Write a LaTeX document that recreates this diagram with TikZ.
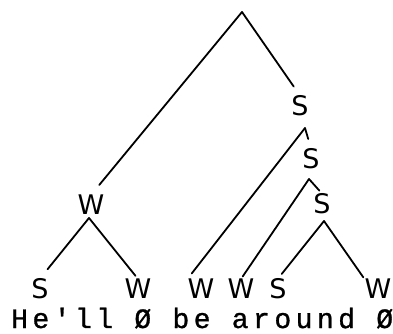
\documentclass[tikz,border=0pt]{standalone}
\usepackage{fontspec}
\setmonofont[LetterSpace=16,FakeBold=1]{Liberation Mono}
\newfontfamily\labfont{DejaVu Sans}
\begin{document}
\begin{tikzpicture}[x=1pt,y=-1pt,
  lab/.style={font=\labfont\fontsize{27}{27}\selectfont, inner sep=0pt},
  br/.style={line width=1.8pt, line cap=round}]
\useasboundingbox[fill=white] (0,0) rectangle (393,334);
% labels
\node[lab] (W1) at (91,205) {W};
\node[lab] (S1) at (300,106) {S};
\node[lab] (S2) at (311,159) {S};
\node[lab] (S3) at (322,204) {S};
\node[lab] (Sl) at (40,289) {S};
\node[lab] (Wo) at (138,289) {W};
\node[lab] (Wbe) at (201,289) {W};
\node[lab] (Wa) at (241,289) {W};
\node[lab] (Sr) at (278,289) {S};
\node[lab] (Wd) at (378,289) {W};
% apexes
\coordinate (rootA) at (242,12);
\coordinate (W1A) at (89,218);
\coordinate (S1A) at (305,128);
\coordinate (S2A) at (309,179);
\coordinate (S3A) at (324,221);
% branches
\draw[br, shorten >=13pt] (rootA) -- (W1.north);
\draw[br, shorten >=11pt] (rootA) -- (S1.north);
\draw[br, shorten >=7pt] (S1A) -- (Wbe.north west);
\draw[br, shorten >=10pt] (S1A) -- (S2.north);
\draw[br, shorten >=3pt] (S2A) -- (Wa.north);
\draw[br, shorten >=4pt] (S2A) -- (S3.north);
\draw[br, shorten >=6pt] (S3A) -- (Sr.north);
\draw[br, shorten >=2pt] (S3A) -- (Wd.north west);
\draw[br, shorten >=12pt] (W1A) -- (Sl.north);
\draw[br, shorten >=4pt] (W1A) -- (Wo.north);
% text
\node[anchor=base west, inner sep=0pt, font=\ttfamily\fontsize{28}{28}\selectfont] (txt) at (11,328) {He'll Ø be around Ø};
\end{tikzpicture}
\end{document}
